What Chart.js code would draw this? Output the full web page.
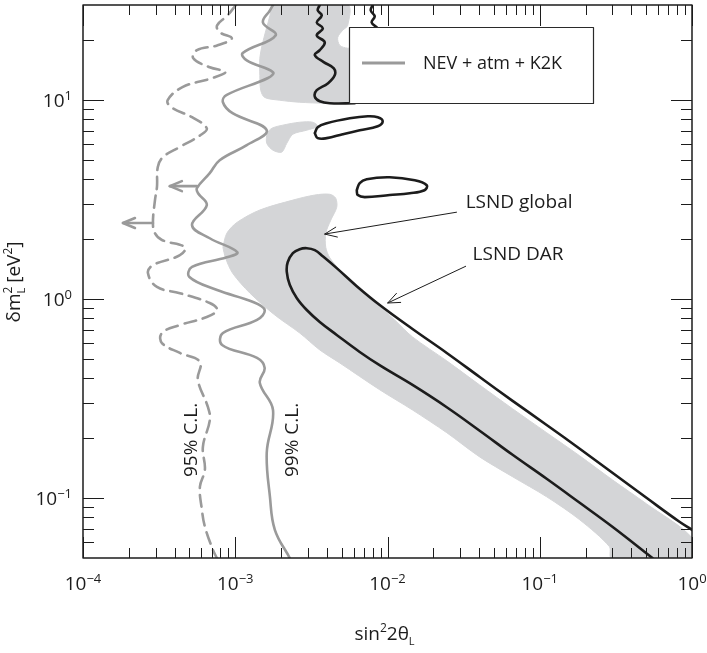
<!DOCTYPE html>
<html>
<head>
<meta charset="utf-8">
<script src="https://cdn.jsdelivr.net/npm/chart.js@4.4.1/dist/chart.umd.min.js"></script>
<style>
  html, body { margin: 0; padding: 0; background: #fff; }
  canvas { display: block; }
</style>
</head>
<body>
<canvas id="c" width="707" height="653"></canvas>
<script>
// ---- axis decades and their exponent labels ----
const xDecades = [1e-4, 1e-3, 1e-2, 1e-1, 1];
const xExponents = ['\u22124', '\u22123', '\u22122', '\u22121', '0'];
const yDecades = [0.1, 1, 10];
const yExponents = ['\u22121', '0', '1'];

// ---- NEV + atm + K2K exclusion limits [sin^2 2theta, dm^2 (eV^2)] ----
const limit99 = [
  [1.77e-3, 30], [1.69e-3, 28.2], [1.52e-3, 24.5], [1.84e-3, 21.1], [1.12e-3, 17.2], [1.19e-3, 15.8],
  [1.77e-3, 13.8], [1.64e-3, 12.9], [8.8e-4, 10.6], [8.3e-4, 9.74], [9.6e-4, 8.58], [1.61e-3, 7.05],
  [1.19e-3, 5.93], [7.9e-4, 4.98], [6.8e-4, 4.29], [5.6e-4, 3.61], [5.7e-4, 3.40], [6.5e-4, 2.96],
  [5.2e-4, 2.35], [6.8e-4, 2.02], [1.03e-3, 1.72], [8.8e-4, 1.62], [5.2e-4, 1.45], [5.0e-4, 1.29],
  [7.6e-4, 1.11], [1.31e-3, 0.966], [1.56e-3, 0.881], [1.39e-3, 0.785], [8.3e-4, 0.675], [8.2e-4, 0.588],
  [1.39e-3, 0.506], [1.56e-3, 0.451], [1.45e-3, 0.379], [1.77e-3, 0.277], [1.61e-3, 0.169],
  [1.69e-3, 0.1015], [1.82e-3, 0.0693], [2.28e-3, 0.05]
];
const limit95 = [
  [1.01e-3, 30], [8.9e-4, 26.6], [7.6e-4, 23.7], [7.9e-4, 21.9], [9.5e-4, 20.4], [7.6e-4, 18.8],
  [5.6e-4, 17.8], [5.3e-4, 16.2], [6.8e-4, 14.6], [8.6e-4, 13.8], [7.1e-4, 12.9], [4.5e-4, 11.6],
  [3.6e-4, 9.97], [3.8e-4, 9.19], [5.2e-4, 8.19], [6.5e-4, 7.21], [5.9e-4, 6.65], [4.3e-4, 5.79],
  [3.35e-4, 5.16], [3.1e-4, 4.60], [3.06e-4, 3.65], [2.97e-4, 3.14], [2.88e-4, 2.41], [2.97e-4, 2.14],
  [3.3e-4, 1.98], [4.67e-4, 1.82], [4.33e-4, 1.66], [2.88e-4, 1.48], [2.67e-4, 1.35], [3.06e-4, 1.15],
  [4.33e-4, 1.07], [6.8e-4, 0.955], [7.6e-4, 0.881], [6.5e-4, 0.812], [4.33e-4, 0.740], [3.3e-4, 0.675],
  [3.3e-4, 0.601], [4.33e-4, 0.536], [5.86e-4, 0.483], [5.68e-4, 0.392], [6.61e-4, 0.287],
  [6.81e-4, 0.247], [6.13e-4, 0.181], [6.32e-4, 0.139], [5.86e-4, 0.114], [6.04e-4, 0.0873],
  [6.32e-4, 0.0718], [7.13e-4, 0.055], [7.57e-4, 0.05]
];
// arrows marking the excluded side: [from, to]
const arrow99 = [[5.6e-4, 3.69], [3.72e-4, 3.69]];
const arrow95 = [[2.88e-4, 2.41], [1.83e-4, 2.41]];

// ---- LSND global allowed regions (closed outlines) ----
const globalUpper = [
  [1.74e-3, 30], [1.69e-3, 26.6], [1.59e-3, 22.4], [1.50e-3, 18.8], [1.45e-3, 16.2], [1.45e-3, 13.3],
  [1.47e-3, 11.2], [1.56e-3, 10.3], [1.96e-3, 9.97], [2.65e-3, 9.74], [3.87e-3, 9.63], [5.57e-3, 9.63],
  [6.57e-3, 9.97], [6.57e-3, 18.2], [5.48e-3, 18.2], [4.86e-3, 18.8], [4.71e-3, 20.6], [5.08e-3, 22.4],
  [5.48e-3, 23.7], [5.48e-3, 30], [1.74e-3, 30]
];
const globalMiddle = [
  [1.61e-3, 6.81], [1.74e-3, 7.21], [2.05e-3, 7.47], [2.65e-3, 7.73], [3.23e-3, 7.73], [3.48e-3, 7.38],
  [2.95e-3, 7.05], [2.39e-3, 6.73], [2.18e-3, 6.06], [2.02e-3, 5.47], [1.77e-3, 5.59], [1.61e-3, 6.06],
  [1.61e-3, 6.81]
];
const globalBand = [
  [8.3e-4, 1.82], [8.8e-4, 2.14], [1.03e-3, 2.43], [1.45e-3, 2.80], [2.39e-3, 3.14], [3.33e-3, 3.33],
  [4.18e-3, 3.36], [4.57e-3, 3.21], [4.64e-3, 2.89], [4.24e-3, 2.49], [3.93e-3, 2.14], [3.93e-3, 1.82],
  [4.18e-3, 1.61], [4.86e-3, 1.40], [6.09e-3, 1.18], [8.24e-3, 0.966], [1.115e-2, 0.785], [1.46e-2, 0.645],
  [2.45e-2, 0.489], [4.03e-2, 0.370], [6.63e-2, 0.281], [0.111, 0.213], [0.183, 0.163], [0.300, 0.1235],
  [0.502, 0.0936], [1.0, 0.0632], [1.0, 0.05], [0.296, 0.05], [0.287, 0.0570], [0.183, 0.0778],
  [0.111, 0.1015], [6.63e-2, 0.128], [4.03e-2, 0.161], [2.45e-2, 0.213], [1.46e-2, 0.277],
  [8.89e-3, 0.350], [4.86e-3, 0.477], [3.59e-3, 0.555], [2.65e-3, 0.675], [1.82e-3, 0.831],
  [1.25e-3, 1.07], [9.6e-4, 1.35], [8.6e-4, 1.62], [8.3e-4, 1.82]
];

// ---- LSND DAR contours ----
const darTopA = [
  [3.59e-3, 30], [3.48e-3, 28.2], [3.70e-3, 26.6], [3.43e-3, 24.5], [3.76e-3, 22.9], [3.43e-3, 21.1],
  [3.87e-3, 19.5], [3.59e-3, 17.8], [3.33e-3, 16.8], [3.81e-3, 15.5], [4.44e-3, 14.4], [4.50e-3, 13.3],
  [4.05e-3, 12.1], [3.43e-3, 11.2], [3.33e-3, 10.4], [3.59e-3, 9.85], [4.18e-3, 9.63], [6.09e-3, 9.63]
];
const darTopB = [
  [8.0e-3, 30], [7.76e-3, 28.2], [8.24e-3, 26.3], [7.87e-3, 24.5], [8.63e-3, 22.9], [8.89e-3, 21.1]
];
const darIslandA = [
  [3.33e-3, 6.81], [3.48e-3, 7.30], [3.99e-3, 7.64], [5.65e-3, 8.09], [7.42e-3, 8.28], [8.63e-3, 8.19],
  [9.30e-3, 7.82], [8.63e-3, 7.38], [6.57e-3, 7.05], [5.08e-3, 6.73], [3.99e-3, 6.43], [3.48e-3, 6.43],
  [3.33e-3, 6.81]
];
const darIslandB = [
  [6.28e-3, 3.52], [6.57e-3, 3.82], [7.30e-3, 4.00], [1.034e-2, 4.09], [1.51e-2, 3.95], [1.81e-2, 3.73],
  [1.75e-2, 3.52], [1.40e-2, 3.40], [1.034e-2, 3.33], [7.09e-3, 3.25], [6.38e-3, 3.33], [6.28e-3, 3.52]
];
const darBand = [
  [0.550, 0.05], [0.300, 0.0718], [0.183, 0.0947], [0.111, 0.125], [6.63e-2, 0.165], [4.03e-2, 0.218],
  [2.45e-2, 0.286], [1.46e-2, 0.370], [9.03e-3, 0.461], [6.57e-3, 0.542], [4.64e-3, 0.660],
  [3.59e-3, 0.767], [2.95e-3, 0.881], [2.54e-3, 1.01], [2.28e-3, 1.18], [2.18e-3, 1.37], [2.21e-3, 1.53],
  [2.39e-3, 1.70], [2.65e-3, 1.78], [2.95e-3, 1.80], [3.33e-3, 1.76], [3.76e-3, 1.64], [4.64e-3, 1.43],
  [6.28e-3, 1.16], [8.89e-3, 0.933], [1.46e-2, 0.707], [2.45e-2, 0.536], [4.03e-2, 0.406],
  [6.63e-2, 0.308], [0.111, 0.233], [0.183, 0.177], [0.300, 0.134], [0.502, 0.1003], [0.827, 0.0760],
  [1.0, 0.0693]
];

// ---- labels placed in data coordinates ----
const pointerGlobal = [[2.84e-2, 2.73], [3.87e-3, 2.12]];
const pointerDar = [[3.26e-2, 1.46], [1.003e-2, 0.955]];
const labelGlobal = { text: 'LSND global', at: [3.26e-2, 2.86] };
const labelDar = { text: 'LSND DAR', at: [3.62e-2, 1.57] };
const label95 = { text: '95% C.L.', at: [5.6e-4, 0.196] };
const label99 = { text: '99% C.L.', at: [2.575e-3, 0.196] };

// ---- styles ----
const FONT = '"Open Sans", "DejaVu Sans", sans-serif';
const INK = '#1c1c1c';
const LIMIT_GRAY = '#9a9a9a';
const REGION_GRAY = '#d4d5d7';

const pts = arr => arr.map(([x, y]) => ({ x, y }));
function curve(data, color, width, dash, order) {
  return {
    data: pts(data), borderColor: color, borderWidth: width, borderDash: dash || [],
    tension: 0.4, fill: false, pointRadius: 0, order,
    borderCapStyle: 'round', borderJoinStyle: 'round'
  };
}
function region(data) {
  return {
    data: pts(data), borderColor: REGION_GRAY, borderWidth: 1, backgroundColor: REGION_GRAY,
    fill: 'shape', tension: 0.3, pointRadius: 0, order: 3
  };
}

function toPx(chart, p) {
  return [chart.scales.x.getPixelForValue(p[0]), chart.scales.y.getPixelForValue(p[1])];
}

function arrowHead(ctx, x0, y0, x1, y1, len, half) {
  const a = Math.atan2(y1 - y0, x1 - x0);
  const c = Math.cos(a), s = Math.sin(a);
  ctx.beginPath();
  ctx.moveTo(x1 - len * c + half * s, y1 - len * s - half * c);
  ctx.lineTo(x1, y1);
  ctx.lineTo(x1 - len * c - half * s, y1 - len * s + half * c);
  ctx.stroke();
}

// parts: [text, size, baseline shift, keepPosition]
function drawRich(ctx, parts, x, y, align) {
  const widths = parts.map(p => { ctx.font = p[1] + 'px ' + FONT; return ctx.measureText(p[0]).width; });
  let total = 0;
  parts.forEach((p, i) => { if (!p[3]) total += widths[i]; });
  let cx = align === 'center' ? x - total / 2 : align === 'right' ? x - total : x;
  ctx.textAlign = 'left';
  ctx.textBaseline = 'alphabetic';
  parts.forEach((p, i) => {
    ctx.font = p[1] + 'px ' + FONT;
    ctx.fillText(p[0], cx, y + p[2]);
    if (!p[3]) cx += widths[i];
  });
}

const decorations = {
  id: 'decorations',
  afterDatasetsDraw(chart) {
    const { ctx, chartArea: a, scales: { x, y } } = chart;
    ctx.save();

    // excluded-side arrows on the limit curves
    ctx.strokeStyle = LIMIT_GRAY;
    ctx.lineWidth = 2.6;
    ctx.lineCap = 'round';
    ctx.lineJoin = 'round';
    for (const arr of [arrow99, arrow95]) {
      const [x0, y0] = toPx(chart, arr[0]);
      const [x1, y1] = toPx(chart, arr[1]);
      ctx.beginPath(); ctx.moveTo(x0, y0); ctx.lineTo(x1, y1); ctx.stroke();
      arrowHead(ctx, x0, y0, x1, y1, 12, 5);
    }

    // pointers from the region labels
    ctx.strokeStyle = INK;
    ctx.lineWidth = 1;
    for (const arr of [pointerGlobal, pointerDar]) {
      const [x0, y0] = toPx(chart, arr[0]);
      const [x1, y1] = toPx(chart, arr[1]);
      ctx.beginPath(); ctx.moveTo(x0, y0); ctx.lineTo(x1, y1); ctx.stroke();
      arrowHead(ctx, x0, y0, x1, y1, 12, 5);
    }

    // legend box
    ctx.fillStyle = '#fff';
    ctx.fillRect(349, 27, 244, 76);
    ctx.strokeStyle = '#2a2a2a';
    ctx.lineWidth = 1.2;
    ctx.strokeRect(349.5, 27.5, 244, 76);
    ctx.strokeStyle = LIMIT_GRAY;
    ctx.lineWidth = 3;
    ctx.lineCap = 'butt';
    ctx.beginPath(); ctx.moveTo(362, 63); ctx.lineTo(405, 63); ctx.stroke();
    ctx.fillStyle = INK;
    drawRich(ctx, [['NEV + atm + K2K', 18, 0]], 423, 69, 'left');

    // region labels
    for (const lb of [labelGlobal, labelDar]) {
      const [lx, ly] = toPx(chart, lb.at);
      drawRich(ctx, [[lb.text, 19, 0]], lx, ly, 'left');
    }
    for (const lb of [label95, label99]) {
      const [lx, ly] = toPx(chart, lb.at);
      ctx.save();
      ctx.translate(lx, ly);
      ctx.rotate(-Math.PI / 2);
      drawRich(ctx, [[lb.text, 19, 0]], 0, 0, 'center');
      ctx.restore();
    }

    // frame
    ctx.strokeStyle = INK;
    ctx.lineWidth = 1.5;
    ctx.lineCap = 'butt';
    ctx.strokeRect(a.left, a.top, a.right - a.left, a.bottom - a.top);

    // inward ticks on all four sides
    ctx.lineWidth = 1;
    const tick = (x0, y0, x1, y1) => { ctx.beginPath(); ctx.moveTo(x0, y0); ctx.lineTo(x1, y1); ctx.stroke(); };
    const xMinor = [], yMinor = [];
    xDecades.slice(0, -1).forEach(d => { for (let k = 2; k <= 9; k++) xMinor.push(k * d); });
    [0.01, 0.1, 1, 10].forEach(d => { for (let k = 2; k <= 9; k++) yMinor.push(k * d); });
    xDecades.forEach(v => {
      const px = Math.round(x.getPixelForValue(v)) + 0.5;
      tick(px, a.bottom, px, a.bottom - 21);
      tick(px, a.top, px, a.top + 21);
    });
    xMinor.forEach(v => {
      const px = Math.round(x.getPixelForValue(v)) + 0.5;
      tick(px, a.bottom, px, a.bottom - 10);
      tick(px, a.top, px, a.top + 10);
    });
    yDecades.forEach(v => {
      const py = Math.round(y.getPixelForValue(v)) + 0.5;
      tick(a.left, py, a.left + 21, py);
      tick(a.right, py, a.right - 21, py);
    });
    yMinor.forEach(v => {
      const py = y.getPixelForValue(v);
      if (py < a.top + 2 || py > a.bottom - 2) return;
      const r = Math.round(py) + 0.5;
      tick(a.left, r, a.left + 11, r);
      tick(a.right, r, a.right - 11, r);
    });

    // tick labels
    ctx.fillStyle = INK;
    xDecades.forEach((v, i) => {
      drawRich(ctx, [['10', 19, 0], [xExponents[i], 13, -7]], x.getPixelForValue(v), a.bottom + 32, 'center');
    });
    yDecades.forEach((v, i) => {
      drawRich(ctx, [['10', 19, 0], [yExponents[i], 13, -7]], a.left - 11, y.getPixelForValue(v) + 7, 'right');
    });

    // axis titles
    drawRich(ctx, [['sin', 19, 0], ['2', 12, -8], ['2\u03b8', 19, 0], ['L', 11, 5]], (a.left + a.right) / 2 - 3, 640, 'center');
    ctx.save();
    ctx.translate(20, 282);
    ctx.rotate(-Math.PI / 2);
    drawRich(ctx, [['\u03b4m', 19, 0], ['2', 12, -8, true], ['L', 11, 5], [' [eV', 19, 0], ['2', 12, -8], [']', 19, 0]], 0, 0, 'center');
    ctx.restore();

    ctx.restore();
  }
};

new Chart(document.getElementById('c'), {
  type: 'line',
  data: {
    datasets: [
      curve(darBand, INK, 2.6, null, 1),
      curve(darIslandA, INK, 2.6, null, 1),
      curve(darIslandB, INK, 2.6, null, 1),
      curve(darTopA, INK, 2.6, null, 1),
      curve(darTopB, INK, 2.6, null, 1),
      curve(limit99, LIMIT_GRAY, 2.6, null, 2),
      curve(limit95, LIMIT_GRAY, 2.6, [12, 7], 2),
      region(globalBand),
      region(globalMiddle),
      region(globalUpper)
    ]
  },
  options: {
    responsive: false,
    animation: false,
    layout: { padding: { left: 83, right: 15, top: 5, bottom: 95 } },
    scales: {
      x: { type: 'logarithmic', min: 1e-4, max: 1, display: false },
      y: { type: 'logarithmic', min: 0.05, max: 30, display: false }
    },
    plugins: { legend: { display: false }, tooltip: { enabled: false } },
    elements: { point: { radius: 0 } }
  },
  plugins: [decorations]
});
</script>
</body>
</html>
